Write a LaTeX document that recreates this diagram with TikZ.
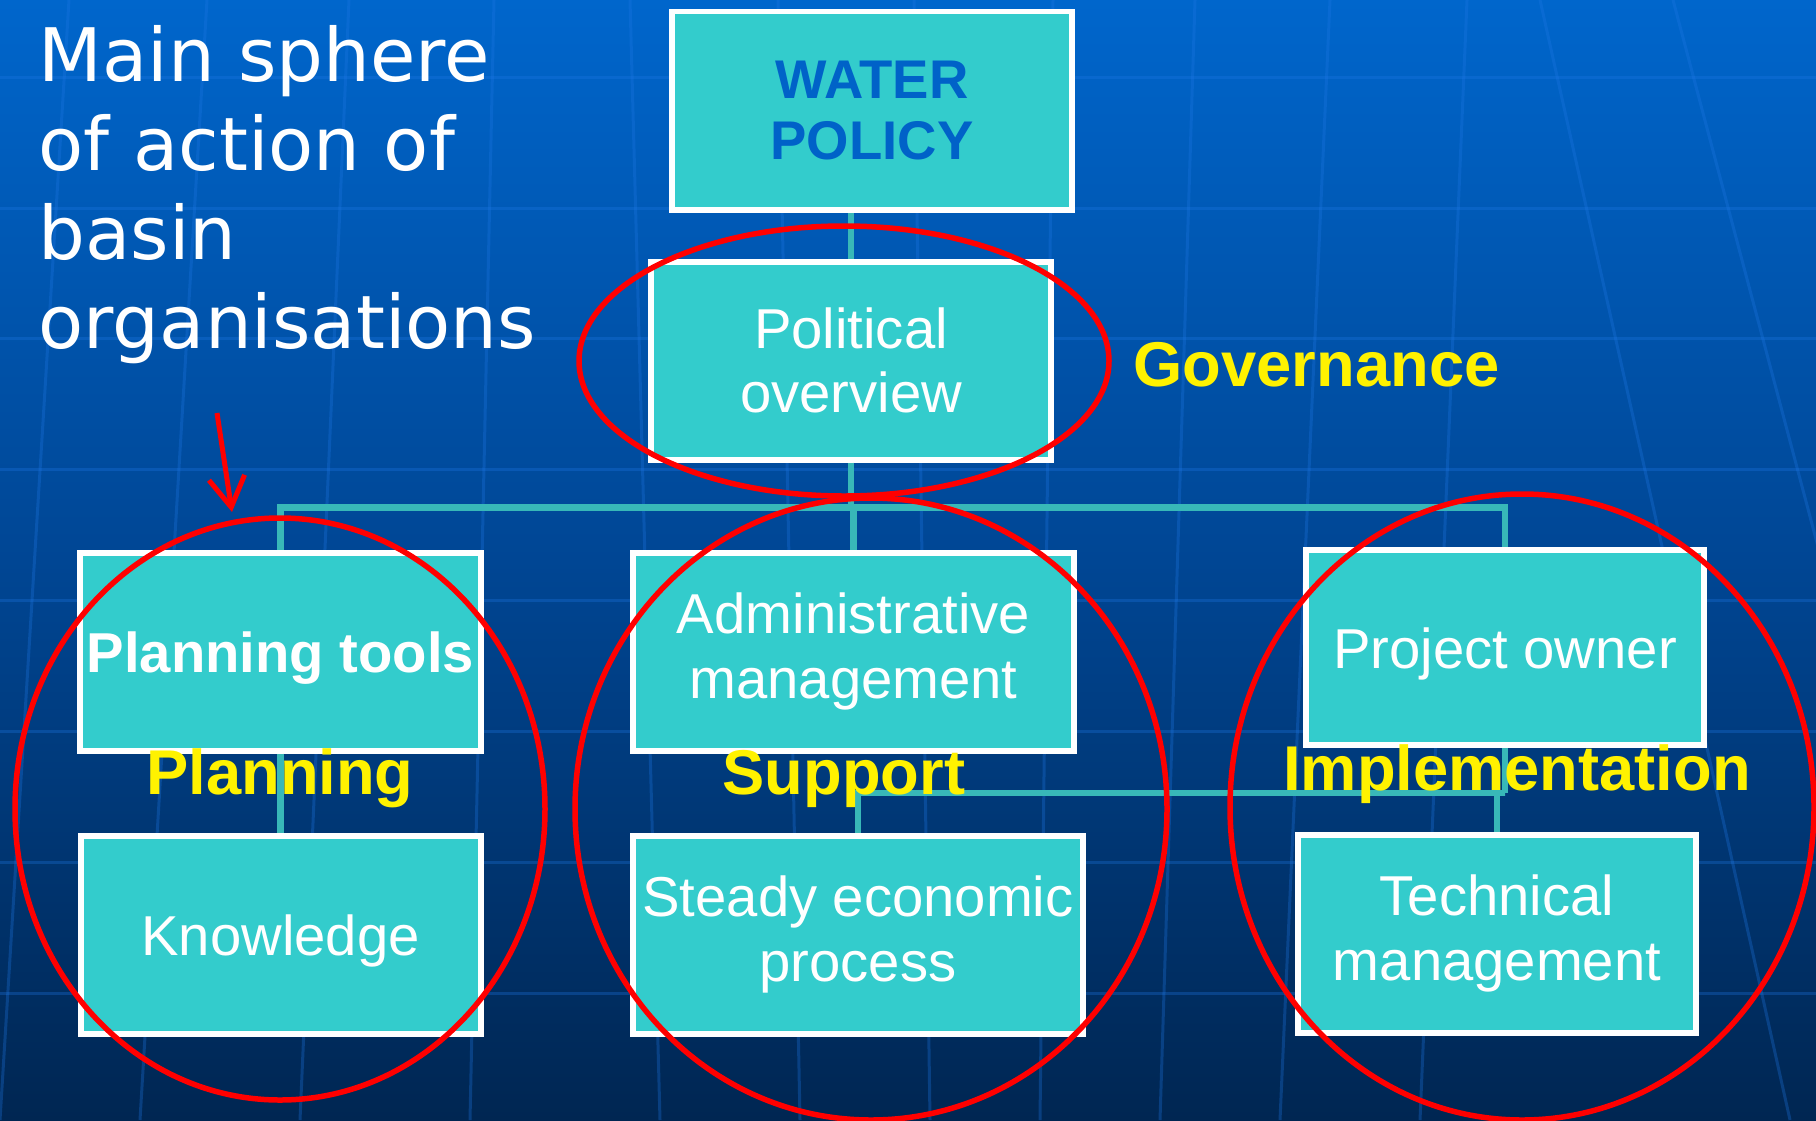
\documentclass[tikz,border=0pt]{standalone}
\usepackage{fontspec}
\setmainfont{Liberation Sans}
\newfontfamily\sidefont{DejaVu Sans}
\usepackage{tikz}
\usetikzlibrary{arrows.meta}

\definecolor{bgtop}{RGB}{0,102,204}
\definecolor{bgmid}{RGB}{0,70,148}
\definecolor{bgbot}{RGB}{0,38,82}
\definecolor{boxteal}{RGB}{51,204,204}
\definecolor{linkteal}{RGB}{56,184,184}
\definecolor{gridblue}{RGB}{30,120,230}
\definecolor{policyblue}{RGB}{0,98,200}

\begin{document}
\begin{tikzpicture}[>={Straight Barb[length=3mm,width=3.6mm]}, node distance=2.83cm]
	\tikzstyle{box} = [draw=white, fill=boxteal, line width=0.06cm, minimum width=4.0cm, minimum height=1.98cm, inner sep=2pt, align=center, text=white, font=\fontsize{16}{18.3}\selectfont]
	\tikzstyle{oneline} = [text height=0.53cm]
	\tikzstyle{link} = [draw=linkteal, line width=0.065cm]
	\tikzstyle{ring} = [draw=red, line width=0.055cm]
	\tikzstyle{tag} = [text=yellow, font=\fontsize{18}{20}\selectfont\bfseries, inner sep=0pt, anchor=base]
	\tikzstyle{gridline} = [draw=gridblue, opacity=0.3, line width=0.03cm]

	% background
	\useasboundingbox (0,0) rectangle (18.16,-11.2);
	\shade[top color=bgtop, bottom color=bgbot, middle color=bgmid] (0,0) rectangle (18.16,-11.2);
	\foreach \gy in {0.77,2.08,3.38,4.69,6.00,7.31,8.62,9.93}
		\draw[gridline] (0,-\gy) -- (18.16,-\gy);
	\foreach \gx/\gb in {0.69/0.0, 2.07/1.4, 3.49/3.0, 4.94/4.7, 6.30/6.6, 7.78/8.0, 9.14/9.3, 10.53/10.4, 11.95/11.6, 13.30/12.8, 14.67/14.2, 15.40/17.9, 16.73/19.7}
		\draw[gridline] (\gx,0) -- (\gb,-11.2);

	% boxes
	\path
	node[box, text=policyblue, font=\fontsize{15.5}{17.5}\selectfont\bfseries] (water) at (8.72,-1.105) {WATER\\POLICY}
	node[box] (polit) at (8.51,-3.605) {Political\\overview}
	node[box, oneline, font=\fontsize{16}{17.5}\selectfont\bfseries] (plantools) at (2.805,-6.515) {Planning tools}
	node[box, minimum width=4.41cm] (admin) at (8.535,-6.515) {Administrative\\management}
	node[box, oneline, minimum width=3.98cm, minimum height=1.95cm] (projown) at (15.05,-6.475) {Project owner}
	node[box, oneline, below of=plantools] (knowl) {Knowledge}
	node[box, minimum width=4.5cm, below of=admin, xshift=0.045cm] (steady) {Steady economic\\process}
	node[box, minimum width=3.98cm, below of=projown, xshift=-0.08cm, yshift=-0.03cm] (techman) {Technical\\management}
	;

	% connectors
	\draw[link] (polit.north) -- (polit.north |- water.south);
	\draw[link] (polit.south) -- ++(0,-0.45) coordinate (hub);
	\draw[link] (plantools.north) |- (hub) -| (projown.north);
	\draw[link] (admin.north) -- (admin.north |- hub);
	\draw[link] (plantools.south) -- (knowl.north);
	\draw[link] (projown.south) -- ++(0,-0.45) coordinate (hub2);
	\draw[link] (steady.north) |- (hub2) -| (techman.north);

	% spheres
	\draw[ring] (8.44,-3.61) ellipse [x radius=2.65, y radius=1.35];
	\draw[ring] (2.80,-8.09) ellipse [x radius=2.65, y radius=2.91];
	\draw[ring] (8.71,-8.09) ellipse [x radius=2.96, y radius=3.11];
	\draw[ring] (15.22,-8.07) ellipse [x radius=2.92, y radius=3.13];

	\node[tag, anchor=base west] (govlbl) at (11.33,-3.86) {Governance};
	\node[tag] (planlbl) at (2.80,-7.94) {Planning};
	\node[tag] (supplbl) at (8.44,-7.94) {Support};
	\node[tag] (impllbl) at (15.17,-7.90) {Implementation};

	\node[anchor=north west, inner sep=0pt, align=left, text=white, font=\sidefont\fontsize{21}{25.3}\selectfont] (sphere) at (0.38,-0.25) {Main sphere\\of action of\\basin\\organisations};

	\coordinate (arrtail) at (2.17,-4.13);
	\coordinate (arrhead) at (2.32,-5.12);
	\draw[->, red, line width=0.05cm] (arrtail) -- (arrhead);
\end{tikzpicture}
\end{document}
